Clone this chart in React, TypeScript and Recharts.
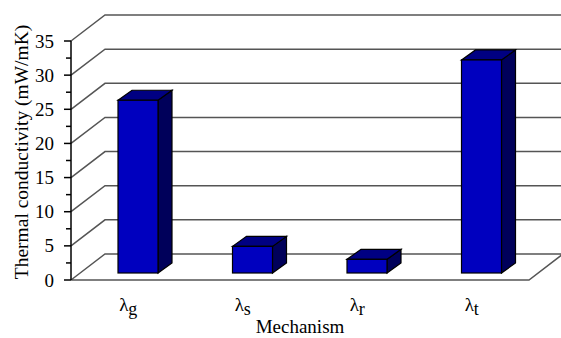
import { BarChart, Bar, XAxis, YAxis, CartesianGrid, Label } from 'recharts';

const mechanisms = ['g', 's', 'r', 't'];
const conductivity = [25.3, 3.9, 2.0, 31.2];
const yTicks = [0, 2.5, 5, 7.5, 10, 12.5, 15, 17.5, 20, 22.5, 25, 27.5, 30, 32.5, 35];
const gridValues = [0, 5, 10, 15, 20, 25, 30, 35];

const data = mechanisms.map((m, i) => ({ name: m, value: conductivity[i] }));

const FONT = '"Liberation Serif", "Times New Roman", serif';
// depth of the back wall
const WALL_DX = 34;
const WALL_DY = 26;
// bars sit a bit behind the front edge
const BAR_SHIFT_X = 10;
const BAR_SHIFT_Y = -7;
// depth of each bar
const BAR_DX = 14;
const BAR_DY = 10;

const FRONT = '#0000BF';
const TOP = '#000082';
const SIDE = '#00005A';
const GRID = '#555555';

function Bar3D(props: any) {
  const { x, y, width, height } = props;
  const fx = x + BAR_SHIFT_X;
  const fy = y + BAR_SHIFT_Y;
  const bottom = fy + height;
  const top = `${fx},${fy} ${fx + BAR_DX},${fy - BAR_DY} ${fx + width + BAR_DX},${fy - BAR_DY} ${fx + width},${fy}`;
  const side = `${fx + width},${fy} ${fx + width + BAR_DX},${fy - BAR_DY} ${fx + width + BAR_DX},${bottom - BAR_DY} ${fx + width},${bottom}`;
  return (
    <g stroke="#000" strokeWidth={1.2} strokeLinejoin="miter">
      <polygon points={side} fill={SIDE} />
      <polygon points={top} fill={TOP} />
      <rect x={fx} y={fy} width={width} height={height} fill={FRONT} />
    </g>
  );
}

function WallLine(props: any) {
  const { x1, y1, x2, y, height, index } = props;
  const isFloor = Math.abs(y1 - (y + height)) < 0.5;
  let d = `M${x1},${y1} L${x1 + WALL_DX},${y1 - WALL_DY} L${x2 + WALL_DX},${y1 - WALL_DY}`;
  if (isFloor) {
    d += ` M${x1},${y1} L${x2},${y1} L${x2 + WALL_DX},${y1 - WALL_DY}`;
  }
  return <path key={`wall-${index}`} d={d} fill="none" stroke={GRID} strokeWidth={1.5} />;
}

function YTick(props: any) {
  const { x, y, payload } = props;
  const major = payload.value % 5 === 0;
  return (
    <g>
      <line x1={x - (major ? 7 : 5)} y1={y} x2={x} y2={y} stroke="#000" strokeWidth={1.5} />
      {major && (
        <text x={x - 17} y={y} dy={6.5} textAnchor="end" fontFamily={FONT} fontSize={19} fill="#000">
          {payload.value}
        </text>
      )}
    </g>
  );
}

function XTick(props: any) {
  const { x, y, payload } = props;
  return (
    <text x={x} y={y + 31} textAnchor="middle" fontFamily={FONT} fontSize={19} fill="#000">
      λ
      <tspan dy={4} fontSize={18}>
        {payload.value}
      </tspan>
    </text>
  );
}

function YTitle() {
  const cx = 21;
  const cy = 152;
  return (
    <text
      x={cx}
      y={cy}
      transform={`rotate(-90 ${cx} ${cy})`}
      textAnchor="middle"
      dominantBaseline="central"
      fontFamily={FONT}
      fontSize={19.5}
      fill="#000"
    >
      Thermal conductivity (mW/mK)
    </text>
  );
}

export default function App() {
  return (
    <div style={{ position: 'absolute', left: 0, top: 0, background: '#fff' }}>
      <BarChart
        width={561}
        height={338}
        data={data}
        margin={{ top: 41, right: 32, bottom: 0, left: 0 }}
        barSize={40}
      >
        <CartesianGrid vertical={false} horizontal={WallLine} horizontalValues={gridValues} />
        <XAxis
          dataKey="name"
          axisLine={false}
          tickLine={false}
          tickSize={0}
          tickMargin={0}
          height={58}
          tick={<XTick />}
        >
          <Label
            value="Mechanism"
            position="insideBottom"
            offset={5}
            fontFamily={FONT}
            fontSize={19}
            fill="#000"
          />
        </XAxis>
        <YAxis
          width={71}
          domain={[0, 35]}
          ticks={yTicks}
          interval={0}
          tickSize={0}
          tickMargin={0}
          tickLine={false}
          axisLine={{ stroke: '#000', strokeWidth: 1.5 }}
          tick={<YTick />}
          label={<YTitle />}
        />
        <Bar dataKey="value" shape={<Bar3D />} isAnimationActive={false} />
      </BarChart>
    </div>
  );
}
